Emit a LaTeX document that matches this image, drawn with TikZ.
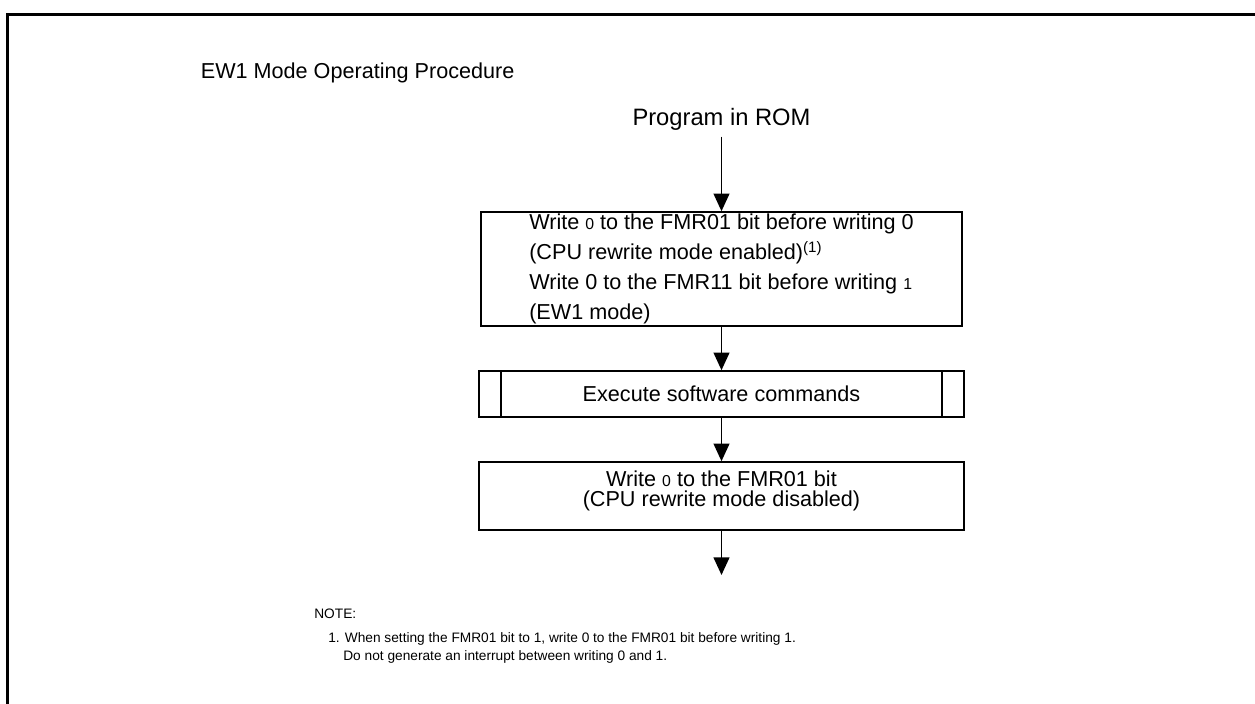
\documentclass[tikz,border=0pt]{standalone}
\usepackage{fontspec}
\setmainfont{Liberation Sans}
\usetikzlibrary{arrows.meta, positioning}
\newcommand{\smdig}[1]{{\fontsize{9}{10}\selectfont #1}}

\begin{document}
\begin{tikzpicture}[font=\fontsize{12.3}{14}\selectfont,
  box/.style={draw, line width=0.9pt, minimum width=9.7cm, inner sep=0pt},
  flow/.style={-{Triangle[length=10pt, width=9pt]}, line width=0.9pt}]
  \useasboundingbox (0,0) rectangle (25.1,14.08);
  \draw[line width=1.8pt] (0.15,-0.2) -- (0.15,13.79) -- (25.3,13.79);

  \node[anchor=base west, inner sep=0pt] (title) at (4.01,12.51) {EW1 Mode Operating Procedure};
  \node[anchor=base, inner sep=3pt, font=\fontsize{13.5}{15}\selectfont] (rom) at (14.43,11.56) {Program in ROM};

  \node[box, minimum width=9.62cm, minimum height=2.28cm, align=left, font=\fontsize{12.3}{17}\selectfont] (fmrset) at (14.43,8.70)
    {Write \smdig{0} to the FMR01 bit before writing 0\\
     (CPU rewrite mode enabled)\textsuperscript{(1)}\\
     Write 0 to the FMR11 bit before writing \smdig{1}\\
     (EW1 mode)};

  \node[box, minimum height=0.92cm] (exec) at (14.43,6.20) {Execute software commands};
  \draw[line width=0.9pt] ([xshift=0.46cm]exec.north west) -- ([xshift=0.46cm]exec.south west);
  \draw[line width=0.9pt] ([xshift=-0.46cm]exec.north east) -- ([xshift=-0.46cm]exec.south east);

  \node[box, minimum height=1.36cm, align=center, text depth=0.30cm, font=\fontsize{12.3}{11.5}\selectfont] (fmrclear) at (14.43,4.16)
    {Write \smdig{0} to the FMR01 bit\\(CPU rewrite mode disabled)};
  \coordinate (out) at (14.43,2.58);

  \draw[flow] (rom.south) -- (fmrset.north);
  \draw[flow] (fmrset.south) -- (exec.north);
  \draw[flow] (exec.south) -- (fmrclear.north);
  \draw[flow] (fmrclear.south) -- (out);

  % note below the chart
  \node[anchor=base west, inner sep=0pt, font=\fontsize{7.8}{9}\selectfont] (note) at (6.28,1.70) {NOTE:};
  \node[anchor=base west, inner sep=0pt, font=\fontsize{7.8}{9}\selectfont] (notea) at (6.56,1.22)
    {1. When setting the FMR01 bit to 1, write 0 to the FMR01 bit before writing 1.};
  \node[anchor=base west, inner sep=0pt, font=\fontsize{7.8}{9}\selectfont] (noteb) at (6.86,0.86)
    {Do not generate an interrupt between writing 0 and 1.};
\end{tikzpicture}
\end{document}
